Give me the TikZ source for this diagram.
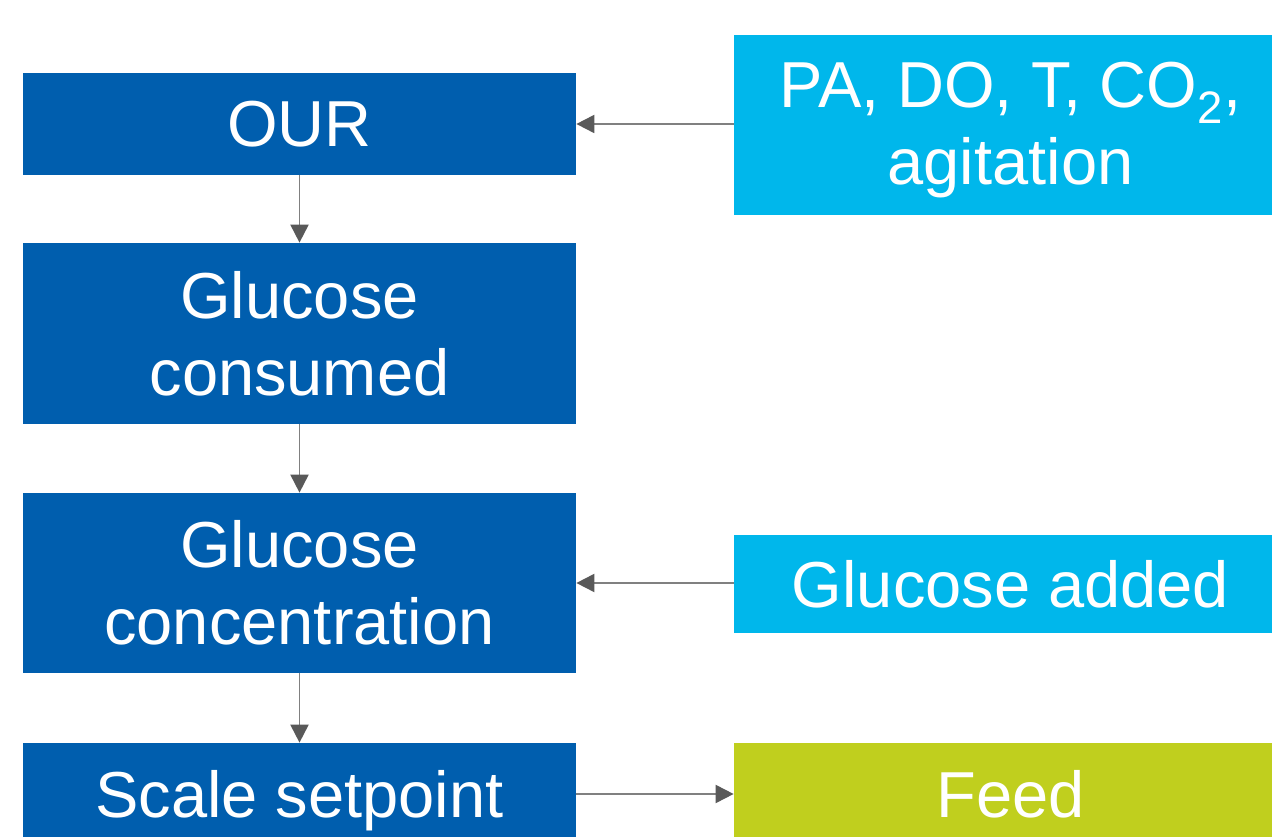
\documentclass[tikz,border=0pt]{standalone}
\usepackage{fontspec}
\setmainfont{Liberation Sans}
\usetikzlibrary{arrows.meta}
\definecolor{ctrlblue}{RGB}{0,94,174}
\definecolor{inblue}{RGB}{0,183,235}
\definecolor{feedgreen}{RGB}{192,207,30}
\definecolor{linkgray}{RGB}{128,128,128}
\definecolor{tipgray}{RGB}{89,89,89}
\begin{document}
\begin{tikzpicture}[x=0.02cm, y=-0.02cm,
  every node/.style={font=\fontsize{37}{43.8}\selectfont, text=white, align=center, inner sep=0pt},
  darkbox/.style={fill=ctrlblue, minimum width=553*0.02cm},
  lightbox/.style={fill=inblue, minimum width=553*0.02cm},
  feedbox/.style={fill=feedgreen, minimum width=553*0.02cm},
  link/.style={draw=linkgray, line width=1.1pt, -{Triangle[length=0.36cm, width=0.36cm, color=tipgray]}}]
\useasboundingbox (0,0) rectangle (1272,837);
\clip (0,0) rectangle (1272,837);
% control chain on the left
\node[darkbox, minimum height=102*0.02cm] (our) at (299.5,124) {OUR};
\node[darkbox, minimum height=181*0.02cm] (consumed) at (299.5,333.5) {Glucose\\consumed};
\node[darkbox, minimum height=180*0.02cm] (conc) at (299.5,583) {Glucose\\concentration};
\node[darkbox, minimum height=102*0.02cm, text depth=0pt] (setpoint) at (299.5,794) {Scale setpoint};
% measured inputs and output on the right
\node[lightbox, minimum height=180*0.02cm, text depth=0.08cm] (meas) at (1010.5,125) {PA, DO, T, CO\textsubscript{2},\\agitation};
\node[lightbox, minimum height=98*0.02cm] (added) at (1010.5,584) {Glucose added};
\node[feedbox, minimum height=102*0.02cm] (feed) at (1010.5,794) {Feed};
% connectors
\draw[link] (our) -- (consumed);
\draw[link] (consumed) -- (conc);
\draw[link] (conc) -- (setpoint);
\draw[link] (meas.west |- our.east) -- (our.east);
\draw[link] (added.west |- conc.east) -- (conc.east);
\draw[link] (setpoint) -- (feed);
\end{tikzpicture}
\end{document}
